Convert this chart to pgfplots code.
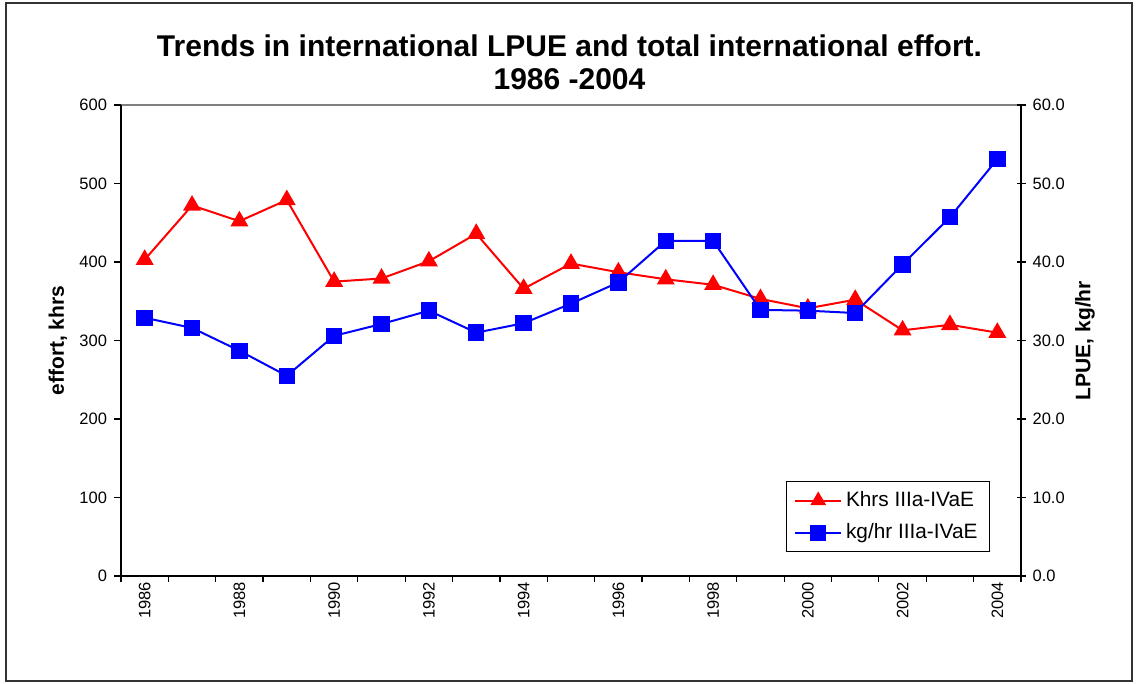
\documentclass[border=0pt]{standalone}
\usepackage{pgfplots}
\pgfplotsset{compat=1.18}
\usepackage{fontspec}
\setmainfont{Liberation Sans}
\begin{document}
\begin{tikzpicture}
\useasboundingbox (0pt,0pt) rectangle (569.5pt,342pt);
\draw[line width=0.8pt, black!80] (3pt,1.5pt) rectangle (566pt,340.5pt);
\node[font=\bfseries\fontsize{15}{16.5}\selectfont, align=center] at (284.75pt,311pt)
  {Trends in international LPUE and total international effort.\\1986 -2004};

\pgfplotsset{
  common/.style={
    at={(60.5pt,54pt)}, anchor=south west,
    width=450pt, height=235.5pt, scale only axis,
    xmin=1985.5, xmax=2004.5,
    /pgf/number format/assume math mode=true,
    tick label style={font=\fontsize{8.25}{10}\selectfont},
    axis line style={black, line width=0.8pt, -},
    tick style={black, line width=0.6pt},
    every axis y label/.style={anchor=center, rotate=90, font=\bfseries\fontsize{10.5}{12}\selectfont},
  },
}

\begin{axis}[common,
  ymin=0, ymax=600,
  axis x line*=bottom, axis y line*=left,
  axis background/.style={draw=gray, line width=0.6pt},
  xtick={1986,1988,...,2004},
  major x tick style={draw=none},
  minor xtick={1985.5,1986.5,...,2004.5},
  x tick label style={rotate=90, anchor=east, /pgf/number format/1000 sep={}},
  xticklabel shift=-4pt,
  ytick={0,100,...,600},
  tick align=outside,
  major tick length=3.5pt, minor tick length=3pt,
  ylabel={effort, khrs},
  ylabel style={at={(axis description cs:-0.07,0.5)}},
]
\addplot[red, line width=1pt, mark=triangle*, mark size=4.2pt, mark options={solid}] coordinates {
 (1986,403) (1987,472) (1988,452) (1989,479) (1990,375) (1991,379) (1992,401)
 (1993,436) (1994,366) (1995,398) (1996,387) (1997,378) (1998,371) (1999,353)
 (2000,341) (2001,352) (2002,313) (2003,320) (2004,310)};
\end{axis}

\begin{axis}[common,
  ymin=0, ymax=60,
  axis x line=none, axis y line*=right,
  ytick={0,10,...,60},
  yticklabel style={/pgf/number format/.cd, fixed, fixed zerofill, precision=1},
  ytick align=center, major tick length=4.5pt,
  ylabel={LPUE, kg/hr},
  ylabel style={at={(axis description cs:1.071,0.5)}},
  legend style={at={(rel axis cs:0.9656,0.2017)}, anchor=north east, draw=black,
    line width=0.6pt, font=\fontsize{10.4}{12}\selectfont, inner xsep=4pt, inner ysep=3pt,
    row sep=3pt},
  legend cell align=left,
  legend image code/.code={\draw[mark repeat=2,mark phase=2,#1] plot coordinates {(0pt,0pt) (11.4pt,0pt) (22.8pt,0pt)};},
]
\addlegendimage{red, line width=1pt, mark=triangle*, mark size=3.6pt}
\addlegendentry{Khrs IIIa-IVaE}
\addplot[blue, line width=1pt, mark=square*, mark size=3.6pt] coordinates {
 (1986,32.9) (1987,31.6) (1988,28.7) (1989,25.5) (1990,30.6) (1991,32.1) (1992,33.8)
 (1993,31.0) (1994,32.2) (1995,34.7) (1996,37.4) (1997,42.7) (1998,42.7) (1999,33.9)
 (2000,33.8) (2001,33.5) (2002,39.7) (2003,45.7) (2004,53.1)};
\addlegendentry{kg/hr IIIa-IVaE}
\end{axis}
\end{tikzpicture}
\end{document}
